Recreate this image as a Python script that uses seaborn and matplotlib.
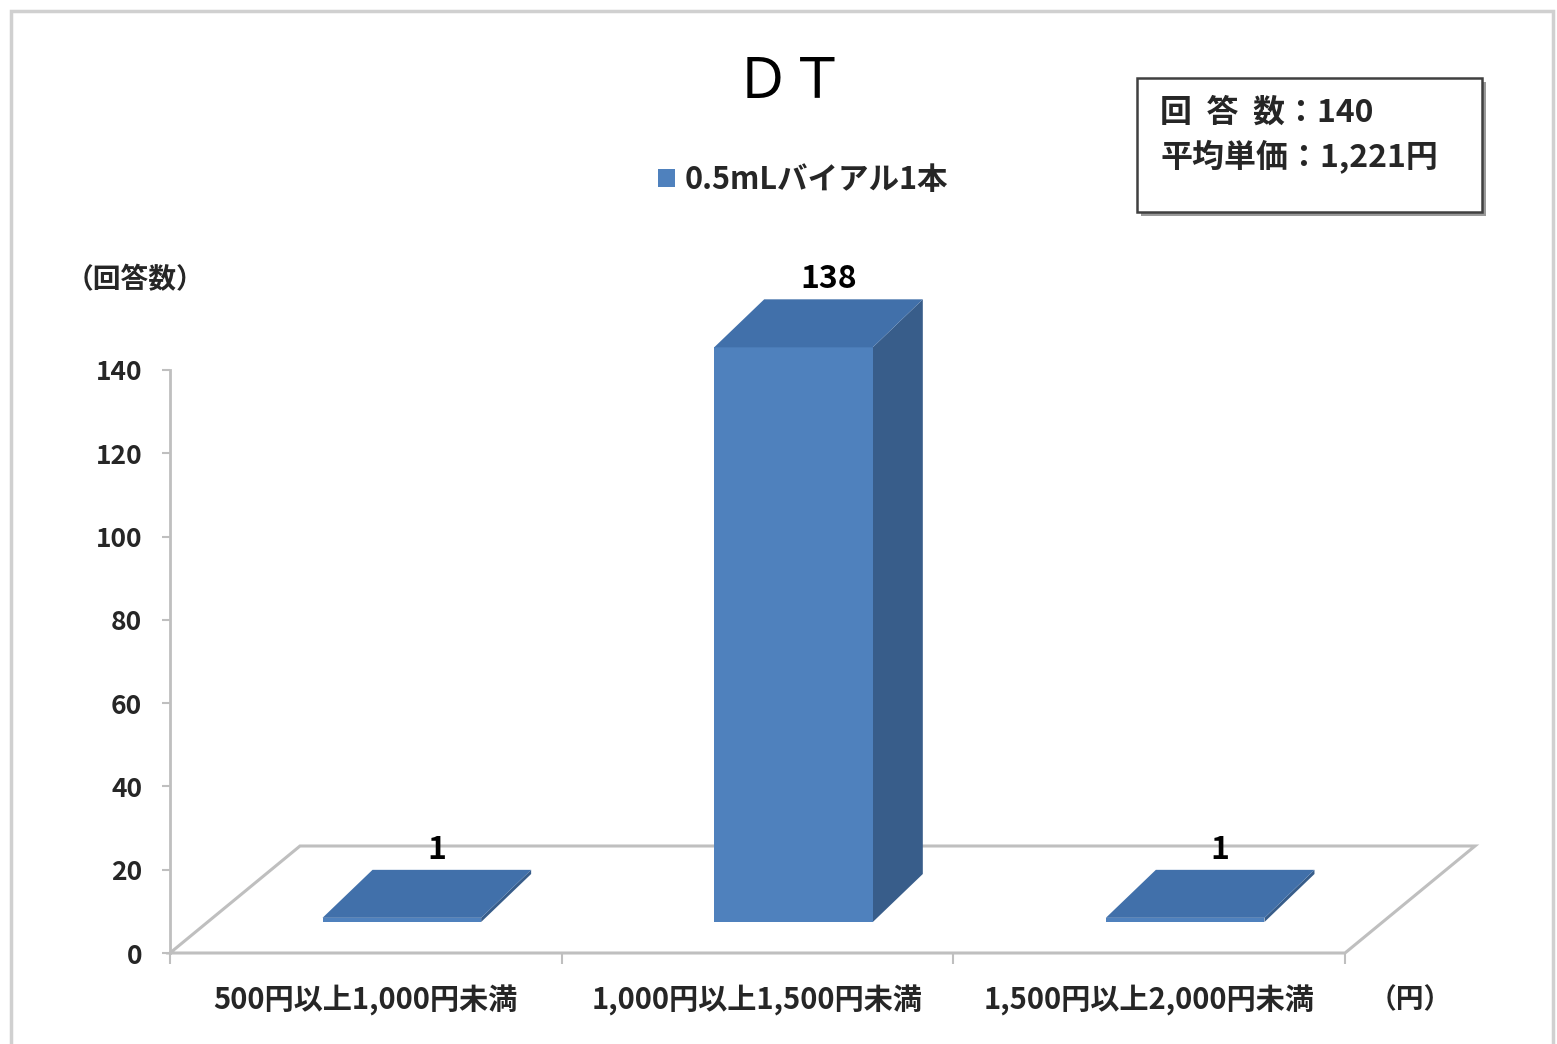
import matplotlib
matplotlib.use("Agg")
import matplotlib.pyplot as plt
import seaborn as sns
import pandas as pd
from matplotlib.patches import Polygon, Rectangle, Patch
from matplotlib.transforms import IdentityTransform, ScaledTranslation

# ---- data ----
categories = ["500円以上1,000円未満", "1,000円以上1,500円未満", "1,500円以上2,000円未満"]
counts = [1, 138, 1]
series_name = "0.5mLバイアル1本"
title_text = "ＤＴ"
yticks = [0, 20, 40, 60, 80, 100, 120, 140]
summary_lines = ["回  答  数：140", "平均単価：1,221円"]
ylabel_text = "（回答数）"
xunit_text = "（円）"

# ---- style ----
sns.set_theme(style="white")
plt.rcParams["font.family"] = ["Noto Sans CJK JP", "DejaVu Sans"]

FRONT = "#4F81BD"
SIDE = "#385D8A"
TOP = "#4170AA"
GRID = "#BFBFBF"

W, H = 1557, 1044
fig = plt.figure(figsize=(W / 100, H / 100), dpi=100)
fig.patch.set_facecolor("white")

# chart-area border
fig.add_artist(Rectangle((11 / W, -0.05), (1553 - 11) / W, 1.05 - 11 / H,
                         transform=fig.transFigure, fill=False,
                         edgecolor="#D0D0D0", lw=2.5))

ax = fig.add_axes([170 / W, 1 - 953 / H, 1175 / W, 583 / H])
df = pd.DataFrame({"cat": categories, "n": counts})
sns.barplot(data=df, x="cat", y="n", ax=ax, color=FRONT, saturation=1,
            width=0.405, zorder=3)
ax.set_xlim(-0.5, 2.5)
ax.set_ylim(0, 140)
ax.set_yticks(yticks)
ax.set_xlabel("")
ax.set_ylabel("")
for s in ["top", "right", "bottom"]:
    ax.spines[s].set_visible(False)
ax.spines["left"].set_color(GRID)
ax.spines["left"].set_linewidth(2)
ax.tick_params(axis="y", left=True, length=6, width=1.5, color=GRID,
               labelsize=19, pad=14)
ax.tick_params(axis="x", bottom=False, labelsize=21, pad=17)
for lab in ax.get_yticklabels() + ax.get_xticklabels():
    lab.set_fontweight("bold")
ax.set_xticks([-0.5, 0.5, 1.5, 2.5], minor=True)
ax.tick_params(axis="x", which="minor", bottom=True, length=8, width=1.5,
               color=GRID, direction="out")

fig.canvas.draw()
ident = IdentityTransform()

# floor (3D base)
FD = (130, 107)  # floor depth in pixels
fl = ax.transData.transform((-0.5, 0))
fr = ax.transData.transform((2.5, 0))
floor = Polygon([fl, fr, fr + FD, fl + FD], closed=True, transform=ident,
                facecolor="white", edgecolor=GRID, lw=2.2, zorder=1,
                clip_on=False)
ax.add_patch(floor)

# bars in 3D
OFF = (36, 31)   # front face offset inside floor
BD = (50, 48)    # bar depth
shift = ScaledTranslation(OFF[0] / 100, OFF[1] / 100, fig.dpi_scale_trans)
for p in list(ax.patches):
    if p is floor:
        continue
    x0, w, h = p.get_x(), p.get_width(), p.get_height()
    p.set_transform(ax.transData + shift)
    p.set_clip_on(False)
    p.set_edgecolor("none")
    fb_r = ax.transData.transform((x0 + w, 0)) + OFF
    ft_l = ax.transData.transform((x0, h)) + OFF
    ft_r = ax.transData.transform((x0 + w, h)) + OFF
    side = Polygon([fb_r, ft_r, ft_r + BD, fb_r + BD], transform=ident,
                   facecolor=SIDE, edgecolor="none", zorder=2.9, clip_on=False)
    top = Polygon([ft_l, ft_r, ft_r + BD, ft_l + BD], transform=ident,
                  facecolor=TOP, edgecolor="none", zorder=3.1, clip_on=False)
    ax.add_patch(side)
    ax.add_patch(top)
    cx = (ft_l[0] + ft_r[0]) / 2 + BD[0] / 2 + 10
    ty = ft_l[1] + BD[1] + 4
    ax.text(cx, ty, f"{int(h)}", transform=ident, ha="center", va="bottom",
            fontsize=23, fontweight="bold", color="black", zorder=5)

# title
fig.text(790 / W, 1 - 82 / H, title_text, ha="center", va="center",
         fontsize=40, color="black")

# legend
fig.legend(handles=[Patch(facecolor=FRONT, edgecolor="none")],
           labels=[series_name], loc="center",
           bbox_to_anchor=(803 / W, 1 - 180 / H), frameon=False,
           handlelength=0.55, handleheight=0.55, handletextpad=0.3,
           prop={"size": 22, "weight": "bold"})

# y-axis label and x unit
fig.text(135 / W, 1 - 280 / H, ylabel_text, ha="center", va="center",
         fontsize=20, fontweight="bold")
fig.text(1410 / W, 1 - 1000 / H, xunit_text, ha="center", va="center",
         fontsize=20, fontweight="bold")

# summary box with shadow
fig.add_artist(Rectangle((1141 / W, 1 - 216 / H), 345 / W, 134 / H,
                         transform=fig.transFigure, facecolor="#9A9A9A",
                         edgecolor="none", zorder=4))
fig.add_artist(Rectangle((1137 / W, 1 - 212 / H), 345 / W, 134 / H,
                         transform=fig.transFigure, facecolor="white",
                         edgecolor="#404040", lw=1.8, zorder=5))
for i, line in enumerate(summary_lines):
    fig.text(1160 / W, 1 - (113 + 44 * i) / H, line, ha="left", va="center",
             fontsize=23, fontweight="bold", zorder=6)

fig.savefig("out.png", dpi=100, facecolor="white")
